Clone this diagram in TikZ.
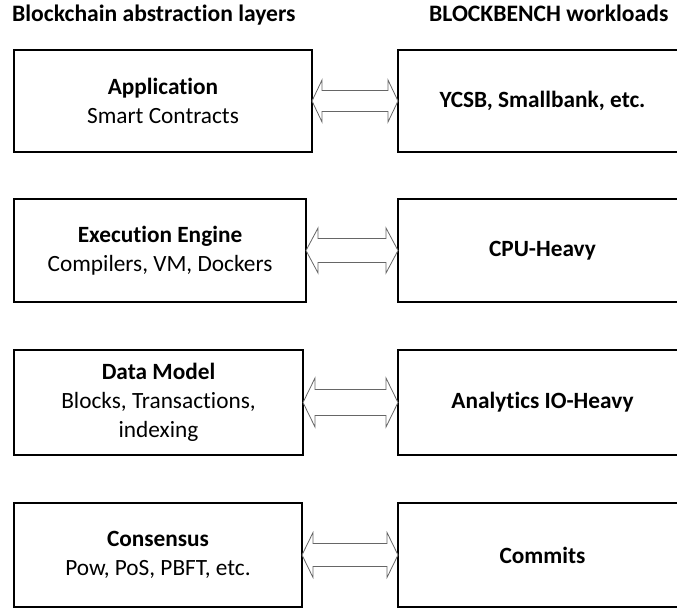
\documentclass[tikz,border=0pt]{standalone}
\usepackage{fontspec}
\setmainfont{Carlito}[Ligatures=NoCommon]
\usetikzlibrary{calc}

% Hollow double-headed arrow between two boxes:
% #1 left node, #2 right node, #3 head length, #4 head half-height, #5 shaft half-height
\newcommand\biarrow[5]{%
  \draw[link] (#1.east) -- ($(#1.east)+(#3,-#4)$) -- ($(#1.east)+(#3,-#5)$)
    -- ($(#2.west)+(-#3,-#5)$) -- ($(#2.west)+(-#3,-#4)$) -- (#2.west)
    -- ($(#2.west)+(-#3,#4)$) -- ($(#2.west)+(-#3,#5)$)
    -- ($(#1.east)+(#3,#5)$) -- ($(#1.east)+(#3,#4)$) -- cycle;}

\begin{document}
\begin{tikzpicture}[x=1bp,y=-1bp,
  layer/.style={draw=black, line width=2.8bp, inner sep=0pt, outer sep=0pt,
    align=center, font=\fontsize{23.3bp}{29bp}\selectfont},
  heading/.style={anchor=base west, inner sep=0pt,
    font=\fontsize{23.6bp}{29bp}\selectfont\bfseries},
  link/.style={draw=black!60, line width=0.8bp, fill=white, line join=miter}]
\useasboundingbox (0,0) rectangle (677,609);
\clip (0,0) rectangle (677,609);

% column headings
\node[heading] (hl) at (12,22) {Blockchain abstraction layers};
\node[heading] (hr) at (429,22) {BLOCKBENCH workloads};

% abstraction layers
\node[layer, minimum width=298bp, minimum height=102bp] (app) at (163,101)
  {\textbf{Application}\\Smart Contracts};
\node[layer, minimum width=292bp, minimum height=103bp] (exe) at (160,250.5)
  {\textbf{Execution Engine}\\Compilers, VM, Dockers};
\node[layer, minimum width=289bp, minimum height=105bp] (dat) at (158.5,402.5)
  {\textbf{Data Model}\\Blocks, Transactions,\\indexing};
\node[layer, minimum width=288bp, minimum height=104bp] (con) at (158,555)
  {\textbf{Consensus}\\Pow, PoS, PBFT, etc.};

% workloads
\node[layer, minimum width=289bp, minimum height=102bp] (ycsb) at (542.5,101)
  {\textbf{YCSB, Smallbank, etc.}};
\node[layer, minimum width=289bp, minimum height=103bp] (cpu) at (542.5,250.5)
  {\textbf{CPU-Heavy}};
\node[layer, minimum width=289bp, minimum height=105bp] (io) at (542.5,402.5)
  {\textbf{Analytics IO-Heavy}};
\node[layer, minimum width=289bp, minimum height=104bp] (com) at (542.5,555)
  {\textbf{Commits}};

% connections
\biarrow{app}{ycsb}{10}{21}{10.5}
\biarrow{exe}{cpu}{12}{22.5}{12}
\biarrow{dat}{io}{12}{24.5}{13}
\biarrow{con}{com}{11}{22.5}{11.5}
\end{tikzpicture}
\end{document}
